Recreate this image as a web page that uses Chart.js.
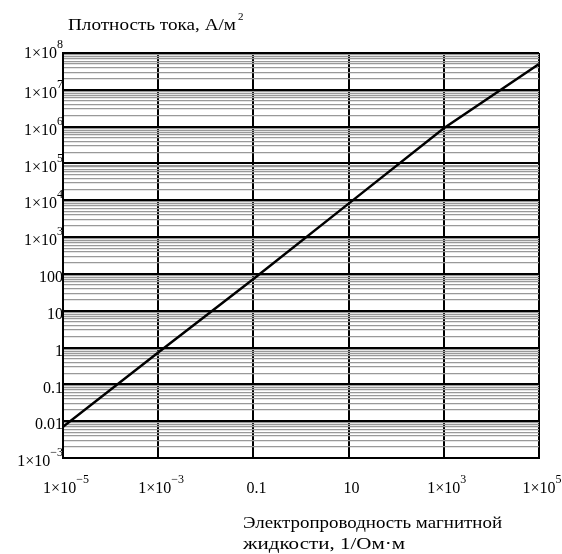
<!DOCTYPE html>
<html>
<head>
<meta charset="utf-8">
<script src="https://cdn.jsdelivr.net/npm/chart.js@4.4.1/dist/chart.umd.min.js"></script>
<style>
html, body { margin: 0; padding: 0; background: #fff; }
</style>
</head>
<body>
<canvas id="myChart" width="562" height="554"></canvas>
<script>
// values
const conductivity = [1e-5, 1e-3, 0.1, 10, 1e3, 1e5];
const currentDensity = [0.007, 0.73, 73, 8100, 9e5, 5e7];
const xTickExp = [-5, -3, -1, 1, 3, 5];
const yTickExp = [-3, -2, -1, 0, 1, 2, 3, 4, 5, 6, 7, 8];
const yTitle = 'Плотность тока, А/м';
const yTitleSup = '2';
const xTitle = ['Электропроводность магнитной', 'жидкости, 1/Ом·м'];

const FONT = '"Liberation Serif", "Times New Roman", serif';

function isMajor(v) {
	const l = Math.log10(v);
	return Math.abs(l - Math.round(l)) < 1e-9;
}

function plainNumber(exp) {
	return ['0.01', '0.1', '1', '10', '100'][exp + 2];
}

function drawLabel(ctx, x, y, exp, align) {
	let base, sup = '';
	if (exp >= -2 && exp <= 2) {
		base = plainNumber(exp);
	} else {
		base = '1×10';
		sup = (exp < 0 ? '−' : '') + Math.abs(exp);
	}
	ctx.font = '16px ' + FONT;
	const wb = ctx.measureText(base).width;
	ctx.font = '12px ' + FONT;
	const ws = sup ? ctx.measureText(sup).width : 0;
	let left = x;
	if (align === 'right') left = x - wb - ws;
	if (align === 'center') left = x - (wb + ws) / 2;
	ctx.textAlign = 'left';
	ctx.textBaseline = 'middle';
	ctx.font = '16px ' + FONT;
	ctx.fillText(base, left, y);
	if (sup) {
		ctx.font = '12px ' + FONT;
		ctx.fillText(sup, left + wb, y - 9);
	}
}

// text stretched to the width it has in the picture
function drawWide(ctx, text, x, y, width) {
	const w = ctx.measureText(text).width;
	ctx.save();
	ctx.translate(x, y);
	ctx.scale(width / w, 1);
	ctx.fillText(text, 0, 0);
	ctx.restore();
}

const labelPlugin = {
	id: 'labels',
	afterDraw(chart) {
		const ctx = chart.ctx;
		const xs = chart.scales.x;
		const ys = chart.scales.y;
		ctx.save();
		ctx.fillStyle = '#000';
		yTickExp.forEach(e => {
			let y = ys.getPixelForValue(Math.pow(10, e)) + 4;
			if (e === 8) y = ys.getPixelForValue(Math.pow(10, e)) + 1;
			drawLabel(ctx, 63, y, e, 'right');
		});
		xTickExp.forEach(e => {
			drawLabel(ctx, xs.getPixelForValue(Math.pow(10, e)) + 3, 489, e, 'center');
		});
		// axis titles
		ctx.font = '17px ' + FONT;
		ctx.textAlign = 'left';
		ctx.textBaseline = 'middle';
		drawWide(ctx, yTitle, 68, 26, 168);
		ctx.font = '11px ' + FONT;
		ctx.fillText(yTitleSup, 238, 17);
		ctx.font = '17px ' + FONT;
		drawWide(ctx, xTitle[0], 243, 524, 259);
		drawWide(ctx, xTitle[1], 243, 545, 162);
		ctx.restore();
	}
};

const ctx = document.getElementById('myChart').getContext('2d');
const myChart = new Chart(ctx, {
	type: 'scatter',
	data: {
		datasets: [{
			data: conductivity.map((x, i) => ({ x: x, y: currentDensity[i] })),
			showLine: true,
			borderColor: '#000',
			borderWidth: 2.5,
			pointRadius: 0,
			tension: 0
		}]
	},
	options: {
		responsive: false,
		animation: false,
		devicePixelRatio: 1,
		layout: { padding: { left: 63, right: 23, top: 53, bottom: 96 } },
		plugins: { legend: { display: false }, tooltip: { enabled: false } },
		scales: {
			x: {
				type: 'logarithmic',
				min: 1e-5,
				max: 1e5,
				afterBuildTicks(scale) {
					scale.ticks = xTickExp.map(e => ({ value: Math.pow(10, e) }));
				},
				ticks: { display: false },
				grid: { color: '#000', lineWidth: 2, drawTicks: false },
				border: { display: true, color: '#000', width: 2 }
			},
			y: {
				type: 'logarithmic',
				min: 1e-3,
				max: 1e8,
				afterBuildTicks(scale) {
					const t = [];
					for (let e = -3; e <= 8; e++) {
						t.push({ value: Math.pow(10, e) });
						if (e < 8) {
							for (let k = 2; k <= 9; k++) t.push({ value: k * Math.pow(10, e) });
						}
					}
					scale.ticks = t;
				},
				ticks: { display: false },
				grid: {
					color: c => isMajor(c.tick.value) ? '#000' : '#999',
					lineWidth: c => isMajor(c.tick.value) ? 2 : 1.2,
					drawTicks: false
				},
				border: { display: true, color: '#000', width: 2 }
			}
		}
	},
	plugins: [labelPlugin]
});
</script>
</body>
</html>
